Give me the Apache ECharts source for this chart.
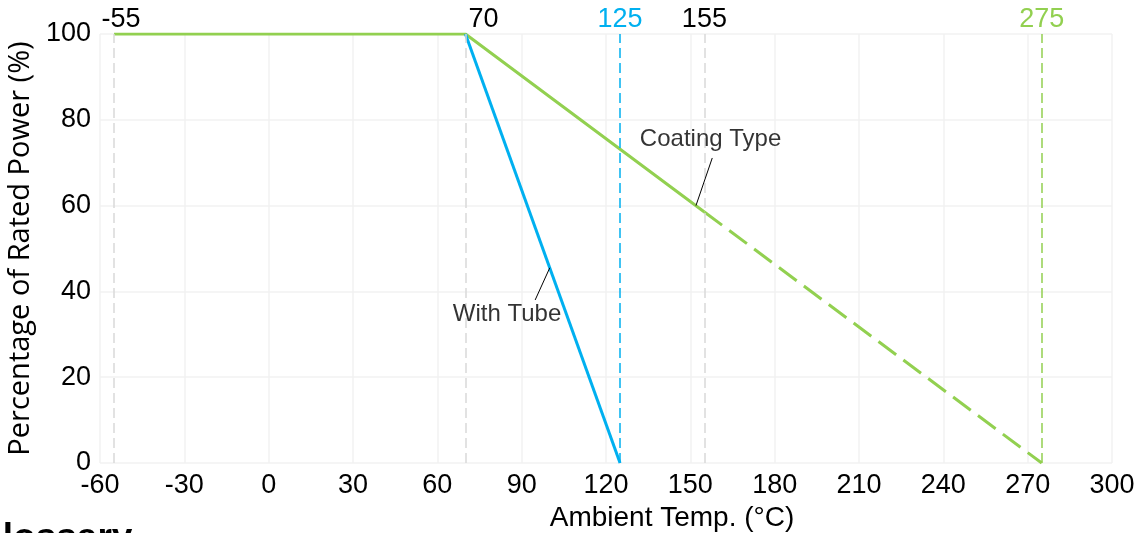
<!DOCTYPE html>
<html>
<head>
<meta charset="utf-8">
<script src="https://cdn.jsdelivr.net/npm/echarts@6/dist/echarts.min.js"></script>
<style>
  html, body { margin: 0; padding: 0; background: #fff; }
  #chart { width: 1144px; height: 533px; }
</style>
</head>
<body>
<div id="chart"></div>
<script>
// derating curve points [temp °C, % rated power]
const coatingSolid = [[-55, 100], [70, 100], [155, 58.5]];
const coatingDashed = [[155, 58.5], [275, 0]];
const tubeLine = [[70, 100], [125, 0]];

// reference temperatures marked with vertical dashed lines
const refTemps = [-55, 70, 125, 155, 275];

// callouts: point on curve, elbow of leader line, text position
const calloutNames = ['Coating Type', 'With Tube'];
const calloutAnchors = [[152, 60], [100, 45.5]];
const calloutEnds = [[157.8, 71.1], [94.8, 38]];
const calloutText = [[157.2, 75.5], [84.8, 34.7]];

const xTicks = { min: -60, max: 300, interval: 30 };
const yTicks = { min: 0, max: 100, interval: 20 };

const GREEN = '#92D050';
const BLUE = '#00B0F0';
const GREY = '#d9d9d9';
const FONT = '"Liberation Sans", Arial, sans-serif';

// colour + label shift for each ref line
const refStyle = {
    '-55': { color: GREY, text: '#000', pad: 14 },
    '70': { color: GREY, text: '#000', pad: 36 },
    '125': { color: BLUE, text: BLUE, pad: 0 },
    '155': { color: GREY, text: '#000', pad: 0 },
    '275': { color: GREEN, text: GREEN, pad: 0 }
};

const chart = echarts.init(document.getElementById('chart'));

const markData = refTemps.map(t => {
    const s = refStyle[String(t)];
    return {
        xAxis: t,
        lineStyle: { color: s.color, type: [10, 5], width: 1.5 },
        label: {
            show: true,
            position: 'end',
            formatter: String(t),
            color: s.text,
            fontSize: 27,
            fontFamily: FONT,
            distance: 1,
            padding: [0, 0, 0, s.pad]
        }
    };
});

const leaderSeries = calloutAnchors.map((p, i) => ({
    type: 'line',
    data: [p, calloutEnds[i]],
    symbol: 'none',
    silent: true,
    lineStyle: { color: '#000', width: 1 },
    z: 5
}));

const option = {
    animation: false,
    grid: { left: 100, right: 32, top: 34, bottom: 70, outerBoundsMode: 'none', containLabel: false },
    xAxis: {
        type: 'value',
        min: xTicks.min,
        max: xTicks.max,
        interval: xTicks.interval,
        name: 'Ambient Temp. (°C)',
        nameLocation: 'middle',
        nameGap: 40,
        nameTextStyle: { fontSize: 28, color: '#000', fontFamily: FONT, padding: [0, 0, 0, 132] },
        axisLine: { show: false },
        axisTick: { show: false },
        axisLabel: { fontSize: 27, color: '#000', fontFamily: FONT, margin: 9 },
        splitLine: { show: true, lineStyle: { color: '#f2f2f2', width: 1.5 } }
    },
    yAxis: {
        type: 'value',
        min: yTicks.min,
        max: yTicks.max,
        interval: yTicks.interval,
        name: 'Percentage of Rated Power (%)',
        nameLocation: 'middle',
        nameGap: 62,
        nameTextStyle: { fontSize: 29, color: '#000', fontFamily: '"Open Sans", sans-serif' },
        axisLine: { show: false },
        axisTick: { show: false },
        axisLabel: { fontSize: 27, color: '#000', fontFamily: FONT, margin: 9 },
        splitLine: { show: true, lineStyle: { color: '#f2f2f2', width: 1.5 } }
    },
    series: [
        {
            name: 'refs',
            type: 'line',
            data: [],
            markLine: { symbol: 'none', silent: true, data: markData }
        },
        {
            name: 'Coating Type',
            type: 'line',
            data: coatingSolid,
            symbol: 'none',
            lineStyle: { color: GREEN, width: 3 },
            z: 3
        },
        {
            name: 'Coating Type (ext)',
            type: 'line',
            data: coatingDashed,
            symbol: 'none',
            lineStyle: { color: GREEN, width: 3, type: [22, 9] },
            z: 3
        },
        {
            name: 'With Tube',
            type: 'line',
            data: tubeLine,
            symbol: 'none',
            lineStyle: { color: BLUE, width: 3 },
            z: 4
        },
        ...leaderSeries,
        {
            type: 'scatter',
            silent: true,
            symbolSize: 0,
            itemStyle: { color: '#fff' },
            data: calloutText.map((p, i) => ({ value: p, name: calloutNames[i] })),
            label: {
                show: true,
                position: 'inside',
                formatter: '{b}',
                color: '#000',
                textBorderWidth: 0,
                fontSize: 24,
                fontFamily: FONT
            },
            z: 6
        }
    ],
    graphic: [{
        type: 'text',
        left: -26,
        top: 520,
        style: { text: 'Glossary', font: 'bold 37px "Liberation Sans", Arial, sans-serif', fill: '#000' }
    }]
};

chart.setOption(option);
window.addEventListener('resize', () => chart.resize());
</script>
</body>
</html>
